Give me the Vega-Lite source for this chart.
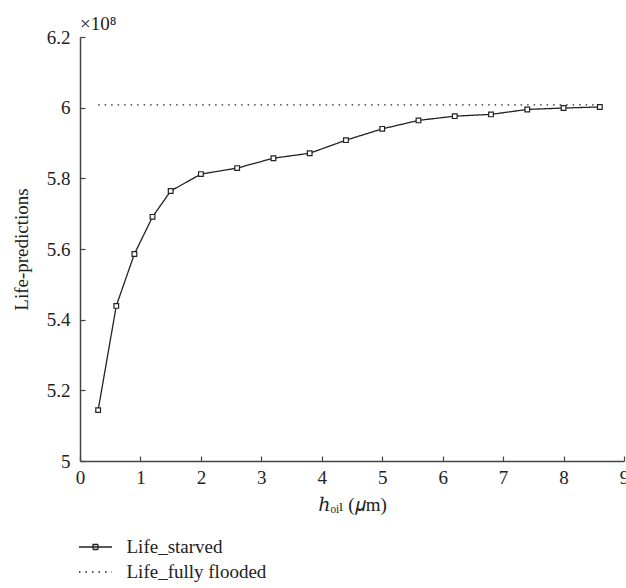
{
  "$schema": "https://vega.github.io/schema/vega-lite/v6.json",
  "width": 544,
  "height": 424,
  "autosize": "none",
  "padding": {"left": 80, "top": 37, "right": 2, "bottom": 127},
  "background": "white",
  "config": {
    "font": "Liberation Serif",
    "view": {"stroke": null},
    "axis": {
      "grid": false,
      "domainColor": "#444",
      "domainWidth": 1.5,
      "tickColor": "#444",
      "tickWidth": 1.2,
      "tickSize": -5,
      "labelFlush": false,
      "labelFont": "Liberation Serif",
      "labelFontSize": 19,
      "labelColor": "#222",
      "titleFont": "Liberation Serif, DejaVu Serif",
      "titleFontSize": 19,
      "titleFontWeight": "normal",
      "titleColor": "#222"
    },
    "legend": {
      "labelFont": "Liberation Serif",
      "labelFontSize": 19,
      "labelColor": "#222"
    }
  },
  "title": {
    "text": "×10⁸",
    "anchor": "start",
    "frame": "group",
    "fontSize": 19,
    "fontWeight": "normal",
    "color": "#222",
    "offset": -6
  },
  "data": {
    "values": [
      {"h": 0.3, "life": 5.144, "series": "Life_starved"},
      {"h": 0.6, "life": 5.439, "series": "Life_starved"},
      {"h": 0.9, "life": 5.586, "series": "Life_starved"},
      {"h": 1.2, "life": 5.691, "series": "Life_starved"},
      {"h": 1.5, "life": 5.764, "series": "Life_starved"},
      {"h": 2.0, "life": 5.812, "series": "Life_starved"},
      {"h": 2.6, "life": 5.829, "series": "Life_starved"},
      {"h": 3.2, "life": 5.857, "series": "Life_starved"},
      {"h": 3.8, "life": 5.871, "series": "Life_starved"},
      {"h": 4.4, "life": 5.908, "series": "Life_starved"},
      {"h": 5.0, "life": 5.940, "series": "Life_starved"},
      {"h": 5.6, "life": 5.964, "series": "Life_starved"},
      {"h": 6.2, "life": 5.976, "series": "Life_starved"},
      {"h": 6.8, "life": 5.981, "series": "Life_starved"},
      {"h": 7.4, "life": 5.995, "series": "Life_starved"},
      {"h": 8.0, "life": 5.999, "series": "Life_starved"},
      {"h": 8.6, "life": 6.002, "series": "Life_starved"},
      {"h": 0.3, "life": 6.008, "series": "Life_fully flooded"},
      {"h": 8.6, "life": 6.008, "series": "Life_fully flooded"}
    ]
  },
  "encoding": {
    "x": {
      "field": "h",
      "type": "quantitative",
      "scale": {"domain": [0, 9], "nice": false},
      "axis": {
        "values": [0, 1, 2, 3, 4, 5, 6, 7, 8, 9],
        "title": "ℎₒᵢₗ (𝜇m)",
        "labelPadding": 12,
        "titlePadding": 8
      }
    },
    "y": {
      "field": "life",
      "type": "quantitative",
      "scale": {"domain": [5, 6.2], "nice": false, "zero": false},
      "axis": {
        "values": [5, 5.2, 5.4, 5.6, 5.8, 6, 6.2],
        "format": "~g",
        "title": "Life-predictions",
        "labelPadding": 15,
        "titlePadding": 15
      }
    }
  },
  "layer": [
    {
      "mark": {"type": "line", "color": "#222", "strokeWidth": 1.3},
      "encoding": {
        "strokeDash": {
          "field": "series",
          "type": "nominal",
          "scale": {
            "domain": ["Life_starved", "Life_fully flooded"],
            "range": [[1, 0], [1.5, 5]]
          },
          "legend": {
            "title": null,
            "orient": "none",
            "legendX": 4.5,
            "legendY": 499,
            "symbolSize": 400,
            "symbolStrokeWidth": 1.3,
            "symbolStrokeColor": "#222",
            "rowPadding": 4,
            "labelOffset": 20,
            "encode": {
              "symbols": {
                "update": {
                  "shape": {"signal": "datum.value == 'Life_starved' ? 'M-1.65,0H1.65M-0.25,-0.25H0.25V0.25H-0.25Z' : 'M-1.65,0H1.65'"}
                }
              }
            }
          }
        }
      }
    },
    {
      "transform": [{"filter": "datum.series == 'Life_starved'"}],
      "mark": {"type": "point", "shape": "square", "size": 22, "filled": false, "stroke": "#222", "strokeWidth": 1.2, "fill": "white", "opacity": 1}
    }
  ]
}
